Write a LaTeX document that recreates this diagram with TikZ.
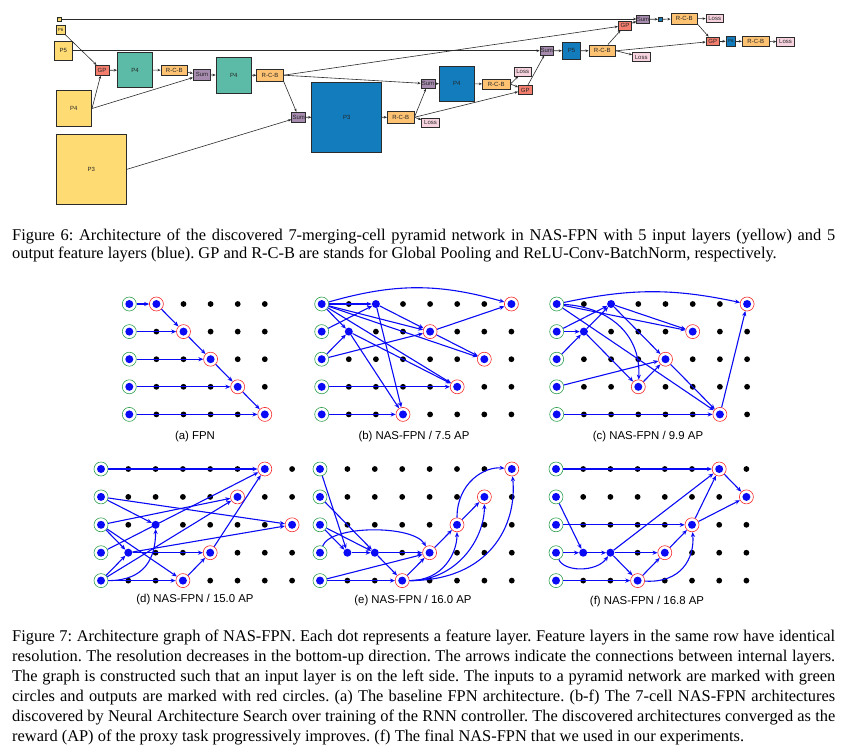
\documentclass[tikz,border=0pt]{standalone}
\usepackage{fontspec}
\setmainfont{Liberation Serif}
\newfontfamily\sansf{Liberation Sans}
\usetikzlibrary{arrows.meta}

\definecolor{cyel}{HTML}{FFDC73}
\definecolor{cteal}{HTML}{5CBBA6}
\definecolor{cblu}{HTML}{137CBD}
\definecolor{corg}{HTML}{FDC272}
\definecolor{cpur}{HTML}{A68BAF}
\definecolor{cgp}{HTML}{F47E6E}
\definecolor{closs}{HTML}{F7D3DF}
\definecolor{cedge}{HTML}{2B2B2B}
\definecolor{fblue}{HTML}{0A0AF5}
\definecolor{rgreen}{HTML}{2E9E4F}
\definecolor{rred}{HTML}{F52A2A}

\newcommand\griddots[1]{\foreach \c in {0,...,#1}{\foreach \r in {0,...,4}{\fill[black] (\c,\r) circle (2.9pt);}}}
\newcommand\mkinputs[1]{\foreach \r in {0,...,4}{\node[inp] (#1g\r) at (0,\r) {};}}

\begin{document}
\frenchspacing
\begin{tikzpicture}[x=1pt,y=-1pt,
  box/.style={draw=cedge, line width=0.7pt, inner sep=0pt, text=black!85, font=\sansf\fontsize{6}{6}\selectfont},
  sz/.style 2 args={minimum width=#1pt, minimum height=#2pt},
  yel/.style={box, fill=cyel},
  tealb/.style={box, fill=cteal},
  blu/.style={box, fill=cblu},
  rcb/.style={box, fill=corg},
  sumb/.style={box, fill=cpur},
  gpb/.style={box, fill=cgp},
  lossb/.style={box, fill=closs},
  fa/.style={draw=cedge, line width=0.6pt, -{Stealth[length=3.2pt,width=2.6pt]}},
  mid/.style={circle, fill=fblue, minimum size=8pt, inner sep=0pt},
  inp/.style={circle, minimum size=14pt, inner sep=0pt, draw=rgreen, line width=0.6pt,
     path picture={\fill[fblue] (path picture bounding box.center) circle (4pt);}},
  outp/.style={inp, draw=rred},
  fl/.style={draw=fblue, line width=1.1pt, -{Stealth[length=5pt,width=4.2pt]}},
  lab/.style={font=\sansf\fontsize{11.4}{13}\selectfont, inner sep=0pt},
  captext/.style={anchor=base west, inner sep=0pt, font=\fontsize{16.4}{20}\selectfont}
]
\useasboundingbox (0,0) rectangle (844,753);

% ================= Figure 6 =================
\node[yel, sz={4}{4}, font=\sansf\fontsize{2}{2}\selectfont] (iP7) at (59,19) {P7};
\node[yel, sz={9.3}{9}, font=\sansf\fontsize{4.5}{4.5}\selectfont] (iP6) at (60.7,30.2) {P6};
\node[yel, sz={18}{18.7}] (iP5) at (63.3,50.7) {P5};
\node[yel, sz={35.7}{35.6}] (iP4) at (73.8,108.5) {P4};
\node[yel, sz={70.7}{70}] (iP3) at (91.3,169.3) {P3};

\node[gpb, sz={14}{10}] (GP1) at (102,70.3) {GP};
\node[tealb, sz={35.4}{35.4}] (P4a) at (135,70) {P4};
\node[rcb, sz={26.7}{10.3}] (RCB1) at (174.3,70.2) {R-C-B};
\node[sumb, sz={17.4}{11}] (Sum1) at (202,74.8) {Sum};
\node[tealb, sz={35.3}{35.3}] (P4b) at (233.7,75.3) {P4};
\node[rcb, sz={26.6}{11.7}] (RCB2) at (270,75.2) {R-C-B};
\node[sumb, sz={14}{10}] (Sum2) at (298.7,117.3) {Sum};
\node[blu, sz={70}{70.3}] (P3o) at (346.7,117.2) {P3};
\node[rcb, sz={26.7}{12.5}] (RCB3) at (400.7,117.3) {R-C-B};
\node[lossb, sz={17.6}{9}] (Loss3) at (430.5,122.8) {Loss};
\node[sumb, sz={14}{9.3}] (Sum3) at (428,83.7) {Sum};
\node[blu, sz={35}{34.7}] (P4o) at (456.8,83.7) {P4};
\node[rcb, sz={27.7}{10}] (RCB4) at (496.2,84) {R-C-B};
\node[lossb, sz={16.7}{8.3}] (Loss4) at (522.7,71.8) {Loss};
\node[gpb, sz={13.7}{8.6}] (GP4) at (525.2,90) {GP};
\node[sumb, sz={13.3}{8.3}] (Sum5) at (546.7,50.8) {Sum};
\node[blu, sz={18.4}{17.3}] (P5o) at (571.5,50.7) {P5};
\node[rcb, sz={26.7}{11.7}] (RCB5) at (602.3,50.8) {R-C-B};
\node[lossb, sz={17.7}{8.6}] (Loss5) at (641.2,57) {Loss};
\node[gpb, sz={13.4}{9}] (GPt) at (625,25.5) {GP};
\node[sumb, sz={12.6}{8.3}] (Sumt) at (643,19.2) {Sum};
\node[blu, sz={4}{4}, font=\sansf\fontsize{2}{2}\selectfont] (P7o) at (660.3,19.3) {P7};
\node[rcb, sz={26.7}{11}] (RCBt) at (684.3,18.8) {R-C-B};
\node[lossb, sz={17.3}{8.4}] (Losst) at (714.7,18.5) {Loss};
\node[gpb, sz={13.3}{8.7}] (GPr) at (712.7,41.3) {GP};
\node[blu, sz={9.7}{9.3}, font=\sansf\fontsize{4.5}{4.5}\selectfont] (P6o) at (730.8,41.3) {P6};
\node[rcb, sz={27}{10.7}] (RCBr) at (755.8,41.3) {R-C-B};
\node[lossb, sz={17.6}{8.3}] (Lossr) at (785.5,41.8) {Loss};

\draw[fa] (iP7.east) -- (Sumt.west |- iP7.east);
\draw[fa] (iP6) -- (GP1);
\draw[fa] (iP4.east) -- (GP1);
\draw[fa] (iP4.east) -- (Sum1);
\draw[fa] (iP5.east) -- (Sum5.west |- iP5.east);
\draw[fa] (iP3.east) -- (Sum2);
\draw[fa] (GP1) -- (P4a);
\draw[fa] (P4a) -- (RCB1);
\draw[fa] (RCB1) -- (Sum1);
\draw[fa] (Sum1) -- (P4b);
\draw[fa] (P4b) -- (RCB2);
\draw[fa] (RCB2.south east) -- (Sum2);
\draw[fa] (RCB2.east) -- (Sum3);
\draw[fa] (RCB2.east) -- (GPt);
\draw[fa] (Sum2) -- (P3o);
\draw[fa] (P3o) -- (RCB3);
\draw[fa] (RCB3.east) -- (Loss3);
\draw[fa] (RCB3.east) -- (Sum3);
\draw[fa] (RCB3.east) -- (GP4);
\draw[fa] (Sum3) -- (P4o);
\draw[fa] (P4o) -- (RCB4);
\draw[fa] (RCB4.east) -- (Loss4);
\draw[fa] (RCB4.east) -- (GP4);
\draw[fa] (GP4) -- (Sum5);
\draw[fa] (Sum5) -- (P5o);
\draw[fa] (P5o) -- (RCB5);
\draw[fa] (RCB5.east) -- (Loss5);
\draw[fa] (RCB5) -- (GPt);
\draw[fa] (RCB5.east) -- (GPr);
\draw[fa] (GPt) -- (Sumt);
\draw[fa] (Sumt) -- (P7o);
\draw[fa] (P7o) -- (RCBt);
\draw[fa] (RCBt) -- (Losst);
\draw[fa] (RCBt.south east) -- (GPr);
\draw[fa] (GPr) -- (P6o);
\draw[fa] (P6o) -- (RCBr);
\draw[fa] (RCBr) -- (Lossr);

% captions
\node[captext] (c6a) at (12,240) {\makebox[823pt][s]{Figure 6:\ Architecture of the discovered 7-merging-cell pyramid network in NAS-FPN with 5 input layers (yellow) and 5}};
\node[captext] (c6b) at (12,258.8) {output feature layers (blue). GP and R-C-B are stands for Global Pooling and ReLU-Conv-BatchNorm, respectively.};

% ================= Figure 7 =================
% (a)
\begin{scope}[shift={(129.3,304)}, x=27.1pt, y=-27.6pt]
\griddots{5}
\mkinputs{a}
\node[outp] (ao0) at (1,0) {};
\node[outp] (ao1) at (2,1) {};
\node[outp] (ao2) at (3,2) {};
\node[outp] (ao3) at (4,3) {};
\node[outp] (ao4) at (5,4) {};
\foreach \i in {0,...,4}{\draw[fl] (ag\i) -- (ao\i);}
\draw[fl] (ao0) -- (ao1);
\draw[fl] (ao1) -- (ao2);
\draw[fl] (ao2) -- (ao3);
\draw[fl] (ao3) -- (ao4);
\end{scope}

% (b)
\begin{scope}[shift={(321.7,304)}, x=27.1pt, y=-27.6pt]
\griddots{7}
\mkinputs{b}
\node[mid] (bm1) at (2,0) {};
\node[mid] (bm2) at (1,1) {};
\node[outp] (bo1) at (4,1) {};
\node[outp] (bo2) at (6,2) {};
\node[outp] (bo3) at (5,3) {};
\node[outp] (bo4) at (3,4) {};
\node[outp] (bo5) at (7,0) {};
\draw[fl] (bg0) to[bend left=16] (bo5);
\draw[fl] (bg0) -- (bm1);
\draw[fl] (bg0) -- (bm2);
\draw[fl] (bg0) -- (bo1);
\draw[fl] (bg0) -- (bo2);
\draw[fl] (bg0) -- (bo3);
\draw[fl] (bg1) -- (bm1);
\draw[fl] (bg2) -- (bm2);
\draw[fl] (bg2) -- (bo1);
\draw[fl] (bm1) -- (bo1);
\draw[fl] (bm1) -- (bo4);
\draw[fl] (bm2) -- (bo4);
\draw[fl] (bm2) -- (bo3);
\draw[fl] (bo1) -- (bo2);
\draw[fl] (bo1) -- (bo5);
\draw[fl] (bg3) -- (bo3);
\draw[fl] (bg4) -- (bo4);
\end{scope}

% (c)
\begin{scope}[shift={(556.7,304)}, x=27.2pt, y=-27.6pt]
\griddots{7}
\mkinputs{c}
\node[mid] (cm1) at (2,0) {};
\node[mid] (cm2) at (1,1) {};
\node[outp] (co1) at (7,0) {};
\node[outp] (co2) at (5,1) {};
\node[outp] (co3) at (4,2) {};
\node[outp] (co4) at (3,3) {};
\node[outp] (co5) at (6,4) {};
\draw[fl] (cg0) to[bend left=12] (co1);
\draw[fl] (cg0) -- (co2);
\draw[fl] (cm1) -- (co2);
\draw[fl] (cg0) .. controls (1.8,0.1) and (3.1,1.0) .. (co4);
\draw[fl] (cg0) -- (co5);
\draw[fl] (cg1) -- (cm2);
\draw[fl] (cg1) -- (cm1);
\draw[fl] (cg2) -- (cm2);
\draw[fl] (cm2) -- (cm1);
\draw[fl] (cm2) -- (co4);
\draw[fl] (cm1) -- (co3);
\draw[fl] (cg3) -- (co3);
\draw[fl] (co4) -- (co3);
\draw[fl] (co3) -- (co5);
\draw[fl] (cg4) -- (co5);
\draw[fl] (co5) -- (co1);
\end{scope}

% (d)
\begin{scope}[shift={(101,469)}, x=27.3pt, y=-27.9pt]
\griddots{7}
\mkinputs{d}
\node[mid] (dm1) at (2,2) {};
\node[mid] (dm2) at (1,3) {};
\node[outp] (do1) at (6,0) {};
\node[outp] (do2) at (5,1) {};
\node[outp] (do3) at (7,2) {};
\node[outp] (do4) at (4,3) {};
\node[outp] (do5) at (3,4) {};
\draw[fl] (dg0) -- (do1);
\draw[fl] (dg1) -- (dm1);
\draw[fl] (dg1) -- (do3);
\draw[fl] (dg2) -- (do2);
\draw[fl] (dg2) -- (dm2);
\draw[fl] (dg2) -- (do5);
\draw[fl] (dg3) -- (do1);
\draw[fl] (dg4) -- (dm2);
\draw[fl] (dg4) -- (do2);
\draw[fl] (dg4) .. controls (1.6,4.0) and (2.0,3.2) .. (dm1);
\draw[fl] (dg4) -- (do5);
\draw[fl] (dm2) -- (do4);
\draw[fl] (dm2) -- (do3);
\draw[fl] (do5) -- (do4);
\draw[fl] (do4) -- (do1);
\end{scope}

% (e)
\begin{scope}[shift={(320,469)}, x=27.4pt, y=-27.9pt]
\griddots{7}
\mkinputs{e}
\node[mid] (em1) at (1,3) {};
\node[mid] (em2) at (2,3) {};
\node[outp] (eo1) at (7,0) {};
\node[outp] (eo2) at (6,1) {};
\node[outp] (eo3) at (5,2) {};
\node[outp] (eo4) at (4,3) {};
\node[outp] (eo5) at (3,4) {};
\draw[fl] (eg0) -- (em1);
\draw[fl] (eg1) -- (em2);
\draw[fl] (eg2) -- (em1);
\draw[fl] (eg2) -- (em2);
\draw[fl] (eg3) .. controls (0.4,2.0) and (3.4,2.0) .. (eo4);
\draw[fl] (eg4) -- (eo4);
\draw[fl] (eg4) -- (eo5);
\draw[fl] (em1) -- (em2);
\draw[fl] (em2) -- (eo4);
\draw[fl] (em2) -- (eo5);
\draw[fl] (eo5) -- (eo4);
\draw[fl] (eo4) -- (eo3);
\draw[fl] (eo3) -- (eo2);
\draw[fl] (eo5) .. controls (4.5,4.0) and (5.0,3.0) .. (eo3);
\draw[fl] (eo5) .. controls (5.0,4.0) and (6.0,2.5) .. (eo2);
\draw[fl] (eo5) .. controls (6.2,4.0) and (7.2,2.0) .. (eo1);
\draw[fl] (eo3) .. controls (5.0,0.5) and (6.0,-0.1) .. (eo1);
\end{scope}

% (f)
\begin{scope}[shift={(556,469)}, x=27.2pt, y=-27.9pt]
\griddots{7}
\mkinputs{f}
\node[mid] (fm1) at (1,3) {};
\node[mid] (fm2) at (2,3) {};
\node[outp] (fo1) at (6,0) {};
\node[outp] (fo2) at (7,1) {};
\node[outp] (fo3) at (5,2) {};
\node[outp] (fo4) at (4,3) {};
\node[outp] (fo5) at (3,4) {};
\draw[fl] (fg0) -- (fo1);
\draw[fl] (fo1) -- (fo2);
\draw[fl] (fo3) -- (fo2);
\draw[fl] (fg1) -- (fm1);
\draw[fl] (fg2) -- (fo3);
\draw[fl] (fg3) -- (fm1);
\draw[fl] (fm1) -- (fm2);
\draw[fl] (fm2) -- (fo4);
\draw[fl] (fg3) .. controls (0.3,3.7) and (1.5,3.7) .. (fm2);
\draw[fl] (fm2) -- (fo1);
\draw[fl] (fm2) -- (fo5);
\draw[fl] (fg4) -- (fo5);
\draw[fl] (fo5) -- (fo4);
\draw[fl] (fo4) -- (fo3);
\draw[fl] (fo5) .. controls (4.6,4.1) and (5.1,3.2) .. (fo3);
\draw[fl] (fo3) -- (fo1);
\end{scope}

\node[lab] (la) at (195,437) {(a) FPN};
\node[lab] (lb) at (414,437) {(b) NAS-FPN / 7.5 AP};
\node[lab] (lc) at (648,437) {(c) NAS-FPN / 9.9 AP};
\node[lab] (ld) at (195,600) {(d) NAS-FPN / 15.0 AP};
\node[lab] (le) at (413,601) {(e) NAS-FPN / 16.0 AP};
\node[lab] (lf) at (647,602) {(f) NAS-FPN / 16.8 AP};

% Figure 7 caption
\node[captext] (c7a) at (12,641.7) {\makebox[823pt][s]{Figure 7:\ Architecture graph of NAS-FPN. Each dot represents a feature layer. Feature layers in the same row have identical}};
\node[captext] (c7b) at (12,661.7) {\makebox[823pt][s]{resolution. The resolution decreases in the bottom-up direction. The arrows indicate the connections between internal layers.}};
\node[captext] (c7c) at (12,681.7) {\makebox[823pt][s]{The graph is constructed such that an input layer is on the left side. The inputs to a pyramid network are marked with green}};
\node[captext] (c7d) at (12,701.7) {\makebox[823pt][s]{circles and outputs are marked with red circles. (a) The baseline FPN architecture. (b-f) The 7-cell NAS-FPN architectures}};
\node[captext] (c7e) at (12,721.7) {\makebox[823pt][s]{discovered by Neural Architecture Search over training of the RNN controller. The discovered architectures converged as the}};
\node[captext] (c7f) at (12,741) {reward (AP) of the proxy task progressively improves. (f) The final NAS-FPN that we used in our experiments.};
\end{tikzpicture}
\end{document}
